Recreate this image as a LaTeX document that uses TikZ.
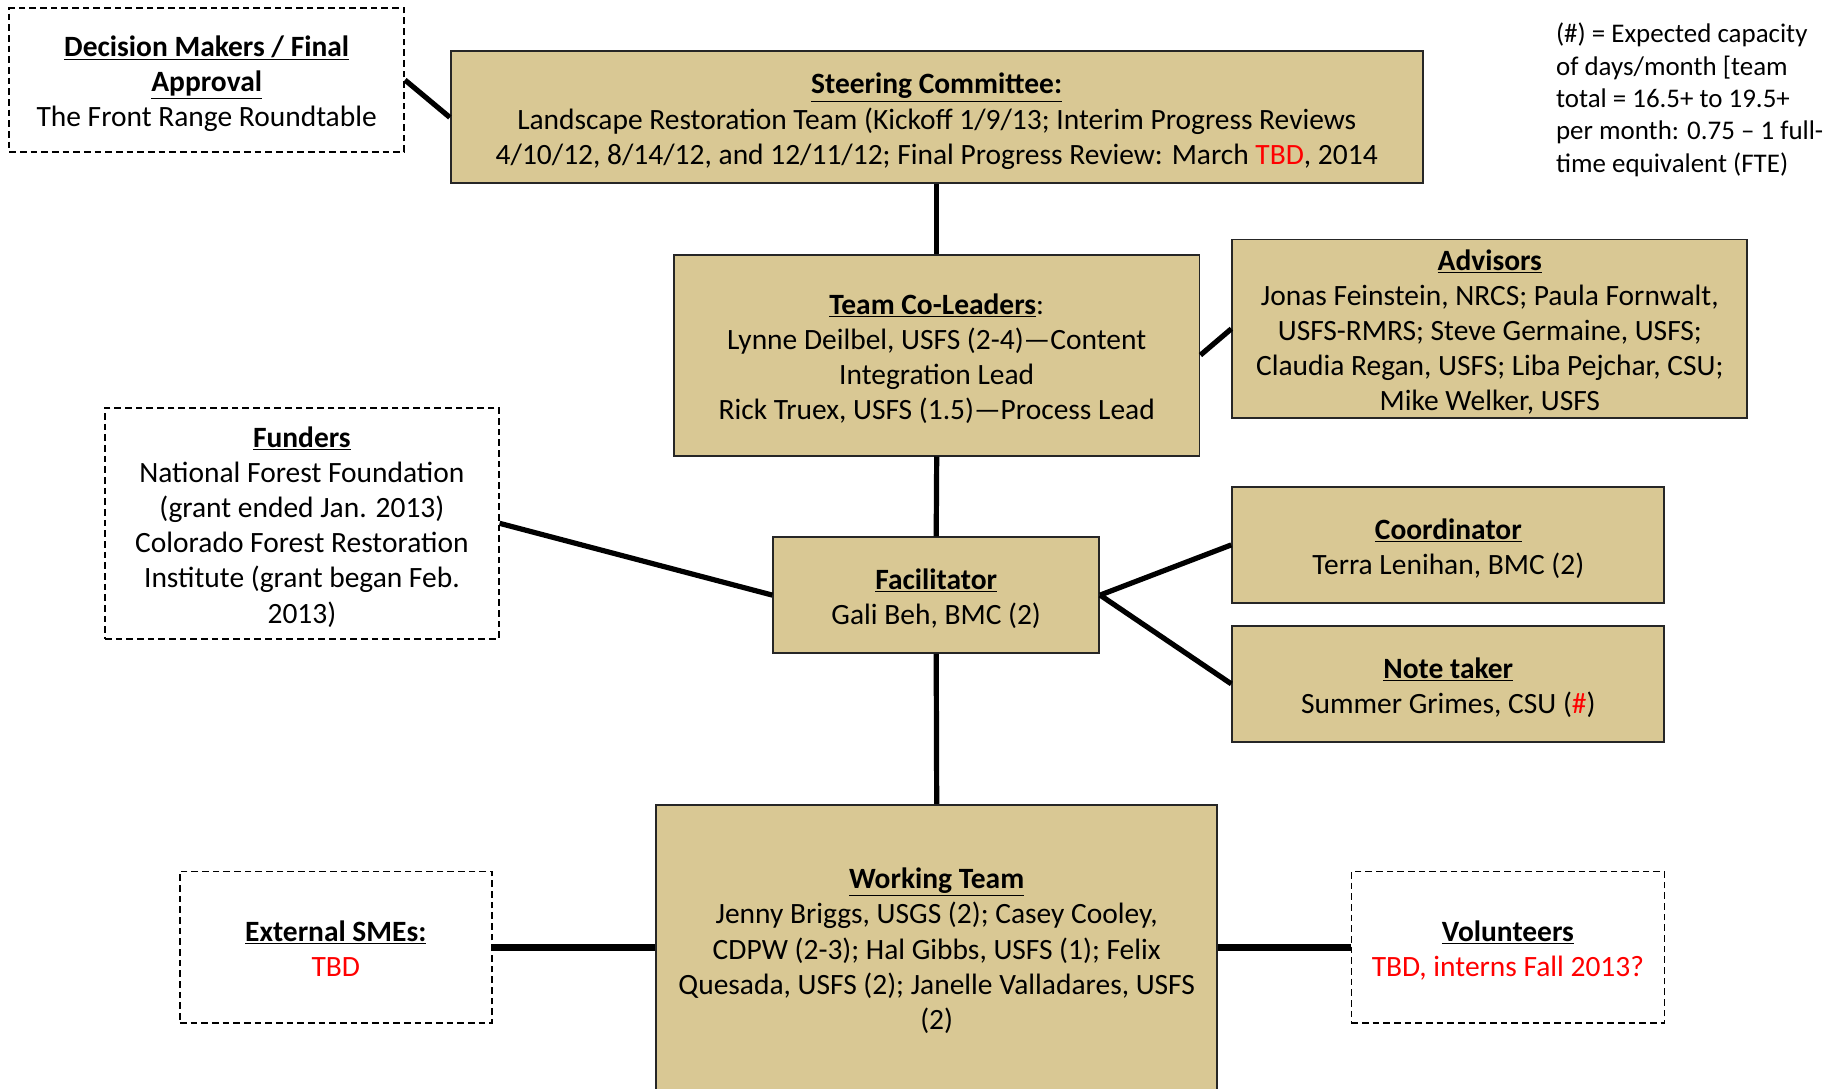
\documentclass[tikz,border=0pt]{standalone}
\usepackage{fontspec}
\setmainfont{Carlito}
\definecolor{boxtan}{RGB}{217,200,148}
\definecolor{tbdred}{RGB}{255,0,0}
\newcommand{\hd}[1]{\underline{\textbf{#1}}}
\newcommand{\rd}[1]{\textcolor{tbdred}{#1}}
\newcommand{\bx}[1]{\raisebox{0pt}[\dimexpr\height+3.5pt\relax][\dimexpr\depth-3.5pt\relax]{\begin{tabular}{@{}c@{}}#1\end{tabular}}}
\begin{document}
\begin{tikzpicture}[x=0.75pt,y=-0.75pt,
  solidbox/.style={draw=black!85, line width=1.4pt, fill=boxtan, align=center, inner sep=0pt,
    font=\fontsize{22.1}{26.4}\selectfont},
  dashbox/.style={draw=black, line width=1.3pt, dash pattern=on 5pt off 3pt, align=center, inner sep=0pt,
    font=\fontsize{22.1}{26.4}\selectfont},
  link/.style={line width=3.9pt},
  thicklink/.style={line width=5.4pt}]
\clip (0,0) rectangle (1832,1089);
\useasboundingbox (0,0) rectangle (1832,1089);

\node[dashbox, minimum width=296.1pt, minimum height=107.7pt] (dm) at (206.7,80)
  {\bx{\hd{Decision Makers / Final}\\ \hd{Approval}\\ The Front Range Roundtable}};

\node[solidbox, minimum width=728.9pt, minimum height=99pt] (sc) at (936.7,117.4)
  {\bx{\hd{Steering Committee:}\\ Landscape Restoration Team (Kickoff 1/9/13; Interim Progress Reviews\\
   4/10/12, 8/14/12, and 12/11/12; Final Progress Review: March \rd{TBD}, 2014}};

\node[anchor=north west, align=left, inner sep=0pt, font=\fontsize{20.2}{24.2}\selectfont] (legend) at (1555.8,23)
  {(\#) = Expected capacity\\ of days/month [team\\ total = 16.5+ to 19.5+\\ per month: 0.75 -- 1 full-\\ time equivalent (FTE)};

\node[solidbox, minimum width=394.2pt, minimum height=150.7pt] (cl) at (936.7,355.1)
  {\bx{\hd{Team Co-Leaders}:\\ Lynne Deilbel, USFS (2-4)---Content\\ Integration Lead\\ Rick Truex, USFS (1.5)---Process Lead}};

\node[solidbox, minimum width=386.3pt, minimum height=134pt] (adv) at (1489.8,328.8)
  {\bx{\hd{Advisors}\\ Jonas Feinstein, NRCS; Paula Fornwalt,\\ USFS-RMRS; Steve Germaine, USFS;\\
   Claudia Regan, USFS; Liba Pejchar, CSU;\\ Mike Welker, USFS}};

\node[dashbox, minimum width=295.2pt, minimum height=173.5pt] (fund) at (301.9,523.3)
  {\bx{\hd{Funders}\\ National Forest Foundation\\ (grant ended Jan. 2013)\\ Colorado Forest Restoration\\
   Institute (grant began Feb.\\ 2013)}};

\node[solidbox, minimum width=244.4pt, minimum height=86.7pt] (fac) at (936.2,595.1)
  {\bx{\hd{Facilitator}\\ Gali Beh, BMC (2)}};

\node[solidbox, minimum width=324.1pt, minimum height=86.7pt] (coord) at (1448.3,544.9)
  {\bx{\hd{Coordinator}\\ Terra Lenihan, BMC (2)}};

\node[solidbox, minimum width=324.1pt, minimum height=86.8pt] (note) at (1448.3,683.9)
  {\bx{\hd{Note taker}\\ Summer Grimes, CSU (\rd{\#})}};

\node[solidbox, minimum width=420.5pt, minimum height=213.75pt] (work) at (936.7,947.3)
  {\bx{\hd{Working Team}\\ Jenny Briggs, USGS (2); Casey Cooley,\\ CDPW (2-3); Hal Gibbs, USFS (1); Felix\\
   Quesada, USFS (2); Janelle Valladares, USFS\\ (2)}};

\node[dashbox, minimum width=233.9pt, minimum height=113.9pt] (sme) at (335.8,947.3)
  {\bx{\hd{External SMEs:}\\ \rd{TBD}}};

\node[dashbox, minimum width=234.8pt, minimum height=113.9pt] (vol) at (1507.9,947.3)
  {\bx{\hd{Volunteers}\\ \rd{TBD, interns Fall 2013?}}};

\draw[link] (dm.east) -- (sc.west);
\draw[link] (sc.south) -- (cl.north);
\draw[link] (cl.east) -- (adv.west);
\draw[link] (cl.south) -- (fac.north);
\draw[link] (fund.east) -- (fac.west);
\draw[link] (fac.east) -- (coord.west);
\draw[link] (fac.east) -- (note.west);
\draw[link] (fac.south) -- (work.north);
\draw[thicklink] (sme.east) -- (sme.east -| work.west);
\draw[thicklink] (vol.west) -- (vol.west -| work.east);
\end{tikzpicture}
\end{document}
